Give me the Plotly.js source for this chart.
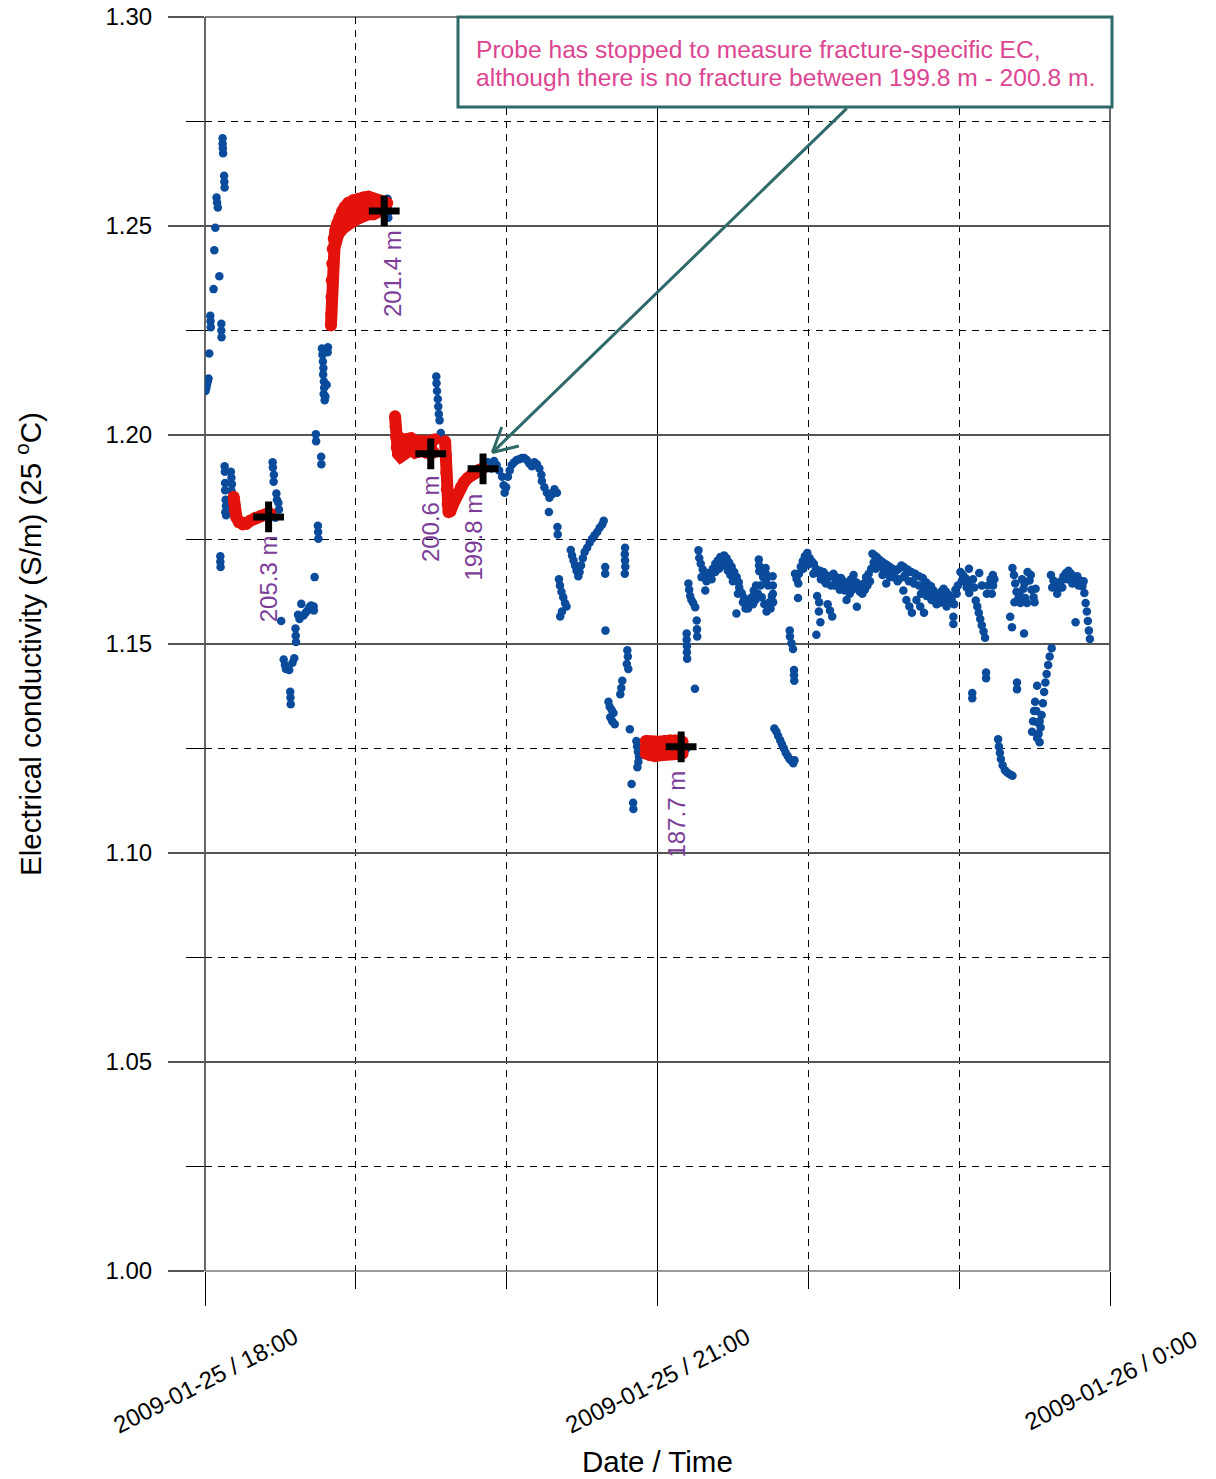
<!DOCTYPE html>
<html>
<head>
<meta charset="utf-8">
<script src="https://cdn.plot.ly/plotly-3.0.1.min.js"></script>
<style>html,body{margin:0;padding:0;background:#fff}#chart{width:1216px;height:1479px}</style>
</head>
<body>
<div id="chart"></div>
<script>
// ---- DATA (time = minutes after 2009-01-25 18:00) ----
const blueMin = [
0.2,0.5,0.8,1.1,1.4,1.7,2.1,2.2,2.3,3.4,3.7,4.1,4.6,4.8,5.1,5.7,6.5,6.5,6.6,6.1,6.1,6.2,7.0,7.0,7.1,7.2,7.6,7.7,7.8,
7.8,7.9,8.0,8.0,8.2,8.3,8.1,8.4,10.3,10.5,10.7,10.6,10.9,9.5,9.0,
26.9,27.0,27.4,27.3,28.4,28.6,29.2,29.4,28.0,
30.3,31.3,31.8,32.2,33.5,34.8,35.5,33.9,34.0,34.1,36.0,36.1,36.2,37.0,37.6,38.3,39.2,40.0,40.8,41.5,42.2,43.2,43.3,43.6,44.1,44.2,44.9,45.0,45.1,46.2,46.3,
46.5,46.7,46.9,47.1,47.0,47.3,47.4,47.2,47.6,47.9,48.4,48.8,48.9,
72.6,72.7,72.8,72.9,75.4,
92.0,92.1,92.3,92.6,92.8,93.0,93.3,93.8,94.0,
111.5,112.5,113.2,114.0,115.0,116.0,117.0,118.2,118.8,119.2,119.8,120.5,121.2,122.0,123.0,124.0,125.0,126.0,127.0,128.0,129.0,130.0,131.0,132.0,133.0,133.8,134.0,135.0,136.0,137.0,138.0,139.0,140.0,136.8,140.2,140.3,
140.8,141.2,141.8,142.5,143.2,143.8,142.0,141.3,145.5,146.0,146.6,147.2,147.8,148.5,149.0,149.6,150.3,151.0,152.0,153.0,154.0,155.0,156.0,157.0,158.0,158.6,159.2,159.2,159.3,
167.1,167.0,167.1,167.2,167.0,168.0,168.2,167.8,168.4,166.0,165.6,165.2,160.5,161.0,161.8,162.5,161.2,162.0,163.0,169.0,171.6,171.9,172.2,172.6,172.4,172.0,169.7,170.3,170.4,174.5,174.8,
191.5,191.6,191.6,191.7,191.7,191.8,194.9,192.3,192.6,193.0,193.5,194.2,195.0,195.6,195.7,195.8,196.3,196.6,197.2,198.0,199.0,199.0,200.0,201.0,202.0,203.0,204.0,205.0,206.5,207.5,208.5,209.5,210.5,211.5,212.3,211.4,
212.5,213.5,214.5,215.5,216.5,217.5,218.3,219.2,220.0,220.3,220.4,220.5,221.5,222.5,223.4,223.0,223.1,223.2,224.5,225.5,225.8,225.9,225.9,226.0,
226.5,227.3,228.0,228.8,229.5,230.3,231.0,231.8,232.5,233.3,234.0,234.5,232.6,232.7,233.3,233.9,234.3,234.3,234.4,234.7,235.3,235.9,236.3,237.0,237.8,238.6,239.6,240.5,241.3,242.2,243.0,243.8,244.6,243.5,244.3,244.2,244.8,243.2,
246.0,247.0,248.0,249.0,250.0,251.0,252.0,253.0,254.0,255.0,255.2,256.0,257.0,258.0,259.0,259.3,260.0,261.0,262.0,263.0,264.0,265.0,265.5,247.7,248.6,249.5,
266.3,267.2,268.0,269.0,270.0,271.0,271.0,272.0,273.0,274.0,275.0,276.0,277.0,277.8,278.0,279.0,279.5,280.2,281.0,281.2,282.5,283.0,284.0,284.5,285.5,286.0,286.8,287.8,288.8,289.8,290.8,291.8,292.8,293.8,294.8,295.8,296.8,297.7,297.7,298.5,299.5,
300.5,301.5,302.5,303.5,303.9,304.0,304.0,305.2,305.2,306.6,307.2,307.8,308.0,308.4,309.0,309.7,310.3,310.7,310.7,311.5,312.5,313.4,313.5,
315.5,315.8,316.2,316.6,317.3,318.2,319.2,320.3,321.2,320.3,321.0,321.2,321.8,322.3,322.8,323.0,323.0,323.6,324.4,325.0,325.6,326.3,327.0,325.8,327.2,328.0,328.8,329.6,330.4,
329.0,329.4,329.8,330.2,330.7,331.2,331.6,332.0,332.4,332.8,333.3,333.8,334.3,334.8,335.4,336.0,336.8,331.0,332.0,331.0,
336.5,337.5,338.5,339.5,340.5,341.5,342.5,343.5,344.5,345.5,346.3,347.0,348.0,349.0,349.8,350.3,350.8,351.2,351.6,352.0,
266,268,270,272,274,276,278,280,282,284,286,288,290,292,294,296,298,203,205,207,209,215,219,246.5,250.5,253.5,257.5,261.5,263.5,
197.5,199.5,201.5,204.5,206,208,210,212,214,216,218,221,222,224,225,236,238,240,242,245,247,249,251,252.5,254.5,256.5,258.5,260.5,262.5,264.5,
266.8,269.5,272.5,275.5,278.5,281.5,284.8,287,289,291,293,295,297,299,301,303,305.5,306,309,311,313,314,322,324,326,328.5,330,337,339,341,343,345,347.5,349.5
];
const blueEC = [
1.2105,1.2112,1.2120,1.2128,1.2135,1.2195,1.2285,1.2272,1.2258,1.2349,1.2442,1.2496,1.2568,1.2556,1.2544,1.2380,1.2266,1.2250,1.2234,1.1710,1.1697,1.1684,1.2710,1.2697,1.2686,1.2674,1.2620,1.2606,1.2592,
1.1925,1.1912,1.1885,1.1868,1.1845,1.1830,1.1815,1.1808,1.1912,1.1898,1.1882,1.1866,1.1850,1.1840,1.1822,
1.1935,1.1922,1.1905,1.1888,1.1860,1.1845,1.1838,1.1822,1.1802,
1.1555,1.1463,1.1450,1.1440,1.1438,1.1455,1.1466,1.1386,1.1372,1.1356,1.1537,1.1520,1.1505,1.1570,1.1560,1.1596,1.1568,1.1575,1.1580,1.1588,1.1592,1.1590,1.1580,1.1660,1.2002,1.1985,1.1783,1.1768,1.1752,1.1948,1.1930,
1.2207,1.2192,1.2176,1.2160,1.2145,1.2128,1.2113,1.2098,1.2083,1.2092,1.2120,1.2198,1.2210,
1.2565,1.2548,1.2532,1.2520,1.2048,
1.2140,1.2124,1.2105,1.2086,1.2068,1.2050,1.2035,1.2005,1.1990,
1.1925,1.1935,1.1930,1.1920,1.1938,1.1928,1.1915,1.1900,1.1880,1.1862,1.1875,1.1900,1.1915,1.1928,1.1935,1.1940,1.1942,1.1945,1.1945,1.1940,1.1932,1.1925,1.1935,1.1930,1.1920,1.1905,1.1890,1.1875,1.1862,1.1850,1.1858,1.1870,1.1862,1.1816,1.1780,1.1762,
1.1655,1.1640,1.1625,1.1612,1.1598,1.1590,1.1578,1.1566,1.1725,1.1712,1.1700,1.1688,1.1675,1.1662,1.1672,1.1688,1.1705,1.1720,1.1730,1.1742,1.1752,1.1760,1.1768,1.1778,1.1786,1.1795,1.1684,1.1668,1.1532,
1.1730,1.1715,1.1700,1.1685,1.1668,1.1485,1.1470,1.1452,1.1440,1.1412,1.1395,1.1380,1.1362,1.1350,1.1342,1.1335,1.1325,1.1315,1.1308,1.1296,1.1268,1.1255,1.1242,1.1230,1.1218,1.1205,1.1165,1.1120,1.1105,1.1240,1.1255,
1.1250,1.1525,1.1510,1.1495,1.1480,1.1465,1.1393,1.1645,1.1630,1.1615,1.1605,1.1598,1.1588,1.1556,1.1535,1.1518,1.1724,1.1706,1.1692,1.1678,1.1665,1.1628,1.1670,1.1665,1.1680,1.1692,1.1700,1.1708,1.1712,1.1705,1.1695,1.1685,1.1672,1.1660,1.1648,1.1573,
1.1635,1.1622,1.1610,1.1600,1.1596,1.1612,1.1628,1.1640,1.1620,1.1702,1.1688,1.1674,1.1612,1.1595,1.1578,1.1682,1.1668,1.1654,1.1600,1.1615,1.1662,1.1640,1.1620,1.1600,
1.1298,1.1290,1.1280,1.1270,1.1260,1.1250,1.1240,1.1232,1.1225,1.1220,1.1215,1.1222,1.1532,1.1518,1.1502,1.1488,1.1438,1.1425,1.1412,1.1668,1.1656,1.1610,1.1668,1.1685,1.1698,1.1710,1.1718,1.1706,1.1698,1.1692,1.1680,1.1670,1.1675,1.1615,1.1600,1.1578,1.1552,1.1522,
1.1672,1.1665,1.1660,1.1662,1.1668,1.1660,1.1652,1.1658,1.1650,1.1645,1.1605,1.1640,1.1655,1.1665,1.1648,1.1589,1.1642,1.1635,1.1645,1.1660,1.1668,1.1680,1.1716,1.1595,1.1580,1.1566,
1.1712,1.1708,1.1703,1.1698,1.1694,1.1645,1.1690,1.1686,1.1682,1.1678,1.1675,1.1680,1.1688,1.1628,1.1684,1.1605,1.1678,1.1590,1.1672,1.1575,1.1668,1.1605,1.1662,1.1590,1.1658,1.1575,1.1648,1.1642,1.1638,1.1628,1.1620,1.1612,1.1625,1.1632,1.1625,1.1618,1.1610,1.1565,1.1548,1.1630,1.1640,
1.1672,1.1665,1.1658,1.1650,1.1680,1.1640,1.1622,1.1383,1.1370,1.1604,1.1590,1.1575,1.1670,1.1560,1.1545,1.1530,1.1515,1.1432,1.1418,1.1640,1.1655,1.1665,1.1640,
1.1272,1.1255,1.1240,1.1225,1.1210,1.1198,1.1192,1.1188,1.1185,1.1565,1.1540,1.1682,1.1665,1.1645,1.1625,1.1408,1.1392,1.1610,1.1598,1.1655,1.1632,1.1610,1.1598,1.1525,1.1672,1.1652,1.1630,1.1612,1.1632,
1.1290,1.1315,1.1340,1.1362,1.1340,1.1312,1.1285,1.1265,1.1300,1.1330,1.1358,1.1385,1.1408,1.1428,1.1450,1.1470,1.1490,1.1275,1.1315,1.1400,
1.1665,1.1652,1.1640,1.1632,1.1650,1.1662,1.1670,1.1675,1.1668,1.1660,1.1552,1.1662,1.1652,1.1638,1.1622,1.1598,1.1578,1.1555,1.1532,1.1512,
1.1695,1.1688,1.1675,1.1665,1.1660,1.1655,1.1660,1.1650,1.1645,1.1640,1.1632,1.1620,1.1605,1.1598,1.1610,1.1600,1.1595,1.1672,1.1685,1.1688,1.1665,1.1585,1.1605,1.1650,1.1640,1.1635,1.1630,1.1620,1.1640,
1.1660,1.1650,1.1655,1.1680,1.1690,1.1675,1.1650,1.1620,1.1600,1.1585,1.1595,1.1640,1.1660,1.1640,1.1585,1.1645,1.1680,1.1690,1.1668,1.1655,1.1645,1.1640,1.1648,1.1630,1.1628,1.1620,1.1640,1.1625,1.1630,1.1650,
1.1680,1.1665,1.1660,1.1650,1.1665,1.1650,1.1620,1.1615,1.1605,1.1595,1.1600,1.1590,1.1605,1.1620,1.1650,1.1635,1.1655,1.1635,1.1640,1.1620,1.1620,1.1655,1.1600,1.1620,1.1645,1.1665,1.1600,1.1635,1.1620,1.1635,1.1655,1.1645,1.1640,1.1650
];

// red (fracture-specific EC) segments
const red1Min = [11.4,11.6,11.9,12.5,13.5,15,16.5,18,20,22,24,26];
const red1EC  = [1.1852,1.1835,1.1818,1.1803,1.1792,1.1786,1.1788,1.1795,1.1802,1.1806,1.1810,1.1812];
const red2Min = [50.1,50.2,50.3,50.4,50.6,50.8,51.2,51.8,52.6,53.5,54.5,55.5,57,59,61,63,65,67,69,71,72.5];
const red2EC  = [1.2262,1.2290,1.2330,1.2370,1.2410,1.2445,1.2470,1.2488,1.2505,1.2520,1.2535,1.2545,1.2555,1.2562,1.2565,1.2568,1.2570,1.2565,1.2560,1.2555,1.2555];
const red2bMin = [51.3,52,53,55,57,59,61,63,65,67,69,71];
const red2bEC  = [1.2445,1.2460,1.2480,1.2495,1.2508,1.2512,1.2518,1.2525,1.2528,1.2528,1.2535,1.2540];
const red2cMin = [52,53,55,57,59,61,63,65,67,69,71];
const red2cEC  = [1.2480,1.2500,1.2520,1.2532,1.2537,1.2542,1.2547,1.2550,1.2547,1.2548,1.2547];
const red3Min = [75.6,75.8,76.0,76.3,76.8,77.8,79,80.5,82,83.5,85,86.5,88,89.5,91];
const red3EC  = [1.2045,1.2020,1.1995,1.1970,1.1955,1.1948,1.1955,1.1962,1.1965,1.1958,1.1960,1.1965,1.1958,1.1955,1.1958];
const red3bMin = [76.3,78,80,82,84,86,88,90,91.5];
const red3bEC  = [1.2000,1.1988,1.1990,1.1992,1.1985,1.1985,1.1982,1.1985,1.1990];
const red3cMin = [76.5,78,80,82,84,86,88,90];
const red3cEC  = [1.1985,1.1968,1.1975,1.1978,1.1972,1.1975,1.1970,1.1970];
const red4Min = [95.5,95.8,96,96.2,96.5,96.9,97.6,98.5,99.5,100.5,101.8,103,104.5,106,107.5,109,110.5];
const red4EC  = [1.1985,1.1950,1.1910,1.1870,1.1835,1.1815,1.1818,1.1832,1.1848,1.1860,1.1875,1.1887,1.1897,1.1905,1.1912,1.1917,1.1920];
const red5Min = [175.3,177,179,181,183,185,187,189,190];
const red5EC  = [1.1268,1.1266,1.1264,1.1266,1.1268,1.1270,1.1270,1.1268,1.1266];
const red5bMin = [175.3,177,179,181,183,185,187,189,190];
const red5bEC  = [1.1238,1.1234,1.1232,1.1234,1.1236,1.1238,1.1240,1.1240,1.1238];
const red5cMin = [175.3,177,179,181,183,185,187,189,190];
const red5cEC  = [1.1253,1.1250,1.1248,1.1250,1.1252,1.1254,1.1255,1.1254,1.1252];

// selected fracture positions (crosses) and depth labels
const crossMin = [25.3, 71.3, 89.8, 110.6, 189.4];
const crossEC  = [1.1804, 1.2536, 1.1955, 1.1919, 1.1254];
const depthLabels = ['205.3 m','201.4 m','200.6 m','199.8 m','187.7 m'];
const labelMin = [25.1, 74.4, 89.5, 107.0, 187.4];
const labelEC  = [1.1764, 1.2494, 1.1910, 1.1866, 1.1201];

const xTickMin = [0, 180, 360];
const xTickText = ['2009-01-25 / 18:00','2009-01-25 / 21:00','2009-01-26 / 0:00'];
const noteLines = ['Probe has stopped to measure fracture-specific EC,',
                   'although there is no fracture between 199.8 m - 200.8 m.'];
const arrowHeadMin = 114.3, arrowHeadEC = 1.1958;
const arrowTailMin = 255.9, arrowTailEC = 1.2785;

// ---- helpers ----
const BASE = Date.UTC(2009,0,25,18,0,0);
function t(m){ return new Date(BASE + Math.round(m*60000)).toISOString().replace('T',' ').slice(0,19); }
const T = arr => arr.map(t);

const FONT = 'Liberation Sans, Arial, sans-serif';
const RED = '#e3120b', BLUE = '#0a4b9b', PURPLE = '#7b3d98', TEAL = '#2f6a68', PINK = '#dc4592';

const traces = [
  {x: T(blueMin), y: blueEC, type:'scatter', mode:'markers',
   marker:{color:BLUE, size:8.5}, hoverinfo:'skip'}
];
[[red1Min,red1EC],[red2Min,red2EC],[red2bMin,red2bEC],[red2cMin,red2cEC],[red3Min,red3EC],[red3bMin,red3bEC],[red3cMin,red3cEC],[red4Min,red4EC],[red5Min,red5EC],[red5bMin,red5bEC],[red5cMin,red5cEC]].forEach(([m,v])=>{
  traces.push({x:T(m), y:v, type:'scatter', mode:'lines+markers',
    line:{color:RED, width:12}, marker:{color:RED, size:12}, hoverinfo:'skip'});
});
traces.push({x:T(crossMin), y:crossEC, type:'scatter', mode:'markers',
  marker:{symbol:'cross-thin-open', size:22, line:{color:'#000', width:7}, color:'#000'}, hoverinfo:'skip'});

const annotations = [];
depthLabels.forEach((s,i)=>annotations.push({x:t(labelMin[i]), y:labelEC[i], xref:'x', yref:'y',
  text:s, showarrow:false, textangle:-90, xanchor:'center', yanchor:'top',
  font:{family:FONT, size:24, color:PURPLE}}));
xTickText.forEach((s,i)=>annotations.push({x:t(xTickMin[i]), y:-0.087, xref:'x', yref:'paper',
  text:s, showarrow:false, textangle:-27, xanchor:'center', yanchor:'middle',
  font:{family:FONT, size:24, color:'#000'}}));
annotations.push({x:0.5, y:-0.1523, xref:'paper', yref:'paper', text:'Date / Time', showarrow:false,
  xanchor:'center', yanchor:'middle', font:{family:FONT, size:29.5, color:'#000'}});
annotations.push({x:-0.1956, y:0.5, xref:'paper', yref:'paper', text:'Electrical conductivity (S/m) (25 <sup>o</sup>C)',
  showarrow:false, textangle:-90, xanchor:'center', yanchor:'middle', font:{family:FONT, size:29.5, color:'#000'}});
noteLines.forEach((s,i)=>annotations.push({x:(474-205)/905, y:(1271-50-27*i)/1254, xref:'paper', yref:'paper',
  text:s, showarrow:false, xanchor:'left', yanchor:'middle', font:{family:FONT, size:24.6, color:PINK}}));
// arrow shaft
annotations.push({x:t(arrowHeadMin), y:arrowHeadEC, xref:'x', yref:'y',
  ax:t(arrowTailMin), ay:arrowTailEC, axref:'x', ayref:'y', text:'', showarrow:true,
  arrowhead:0, arrowwidth:3, arrowcolor:TEAL, standoff:0, startstandoff:0});
// open V arrowhead (two short strokes ending at the tip)
[[10,-27],[28,-7]].forEach(([dx,dy])=>annotations.push({x:t(arrowHeadMin), y:arrowHeadEC, xref:'x', yref:'y',
  ax:dx, ay:dy, text:'', showarrow:true, arrowhead:0, arrowwidth:3, arrowcolor:TEAL, standoff:0, startstandoff:0}));

const edgeLines = [
  {type:'line', xref:'paper', yref:'paper', x0:0, x1:0, y0:0, y1:1, line:{color:'#000', width:1.2}, layer:'below'},
  {type:'line', xref:'paper', yref:'paper', x0:1, x1:1, y0:0, y1:1, line:{color:'#000', width:1.2}, layer:'below'},
  {type:'line', xref:'paper', yref:'paper', x0:0, x1:1, y0:1, y1:1, line:{color:'#555', width:1.3}, layer:'below'},
  {type:'line', xref:'paper', yref:'paper', x0:0, x1:1, y0:0, y1:0, line:{color:'#777', width:1.6}, layer:'below'}
];

const layout = {
  width:1216, height:1479,
  margin:{l:205, r:106, t:17, b:208},
  paper_bgcolor:'#fff', plot_bgcolor:'#fff',
  showlegend:false,
  font:{family:FONT, size:24, color:'#000'},
  xaxis:{type:'date', range:[t(0), t(360)], tick0:t(0), dtick:3*3600000,
    ticks:'outside', ticklen:34, tickcolor:'#000', tickwidth:1, showticklabels:false,
    showgrid:true, gridcolor:'#000', gridwidth:1, zeroline:false, showline:false, fixedrange:true,
    minor:{tick0:t(0), dtick:3600000, ticks:'outside', ticklen:17, tickcolor:'#000', tickwidth:1,
      showgrid:true, gridcolor:'#000', gridwidth:1, griddash:'7px,6px'}},
  yaxis:{range:[1.0,1.30], tick0:1.0, dtick:0.05, tickformat:'.2f',
    ticks:'outside', ticklen:36, tickcolor:'#555', tickwidth:1.3, ticklabelstandoff:11,
    tickfont:{family:FONT, size:24, color:'#000'},
    showgrid:true, gridcolor:'#555', gridwidth:1.3, zeroline:false, showline:false, fixedrange:true,
    minor:{tick0:1.0, dtick:0.025, ticks:'outside', ticklen:18, tickcolor:'#000', tickwidth:1,
      showgrid:true, gridcolor:'#000', gridwidth:1, griddash:'7px,6px'}},
  shapes: edgeLines.concat([{type:'rect', xref:'paper', yref:'paper', layer:'above',
    x0:(458-205)/905, x1:(1112-205)/905, y0:(1271-107)/1254, y1:(1271-17)/1254,
    line:{color:TEAL, width:3}, fillcolor:'#fff'}]),
  annotations: annotations
};

Plotly.newPlot('chart', traces, layout, {staticPlot:true});
</script>
</body>
</html>
